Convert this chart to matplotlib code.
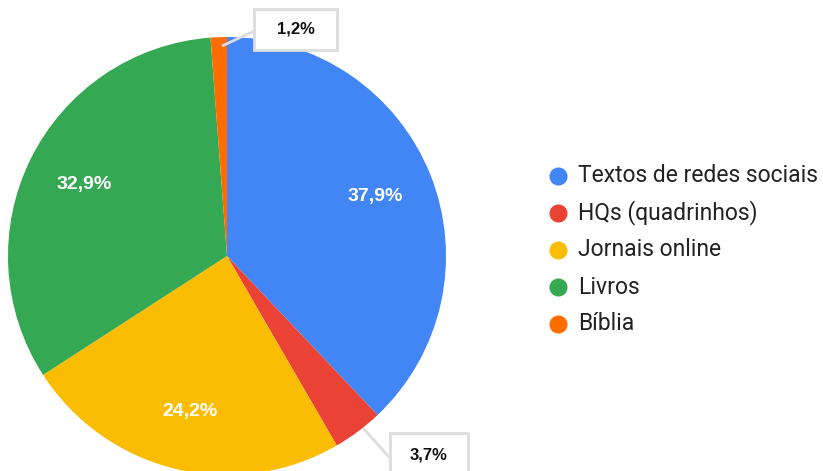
import matplotlib
matplotlib.use('Agg')
import matplotlib.pyplot as plt
from matplotlib.patches import Rectangle

categories = ['Textos de redes sociais', 'HQs (quadrinhos)', 'Jornais online', 'Livros', 'Bíblia']
values = [37.9, 3.7, 24.2, 32.9, 1.2]
colors = ['#4285F4', '#EA4335', '#FBBC04', '#34A853', '#FF6D01']

W, H = 823, 471
fig = plt.figure(figsize=(W / 100, H / 100), dpi=100)
ax = fig.add_axes([0, 0, 1, 1])

cx, cy, R = 227, H - 256, 219

def pct(v):
    return f"{v:.1f}".replace('.', ',') + '%'

def inside(p):
    # small slices get a callout box instead
    return pct(p) if p > 5 else ''

wedges, texts, autotexts = ax.pie(
    values, colors=colors, startangle=90, counterclock=False,
    center=(cx, cy), radius=R, autopct=inside, pctdistance=0.73,
    textprops=dict(color='white', fontsize=14, fontweight='bold', family=['Liberation Sans', 'DejaVu Sans']),
    wedgeprops=dict(linewidth=0), frame=True)
ax.set_xlim(0, W)
ax.set_ylim(0, H)
ax.set_aspect('equal')
ax.axis('off')

box_font = dict(fontsize=12, fontweight='bold', color='#111111', stretch='condensed',
                family=['Liberation Sans Narrow', 'Liberation Sans', 'DejaVu Sans'])

def callout(txt, x0, y0, w, h, line):
    ax.plot([line[0][0], line[1][0]], [H - line[0][1], H - line[1][1]],
            color='#dddddd', lw=2, solid_capstyle='butt', zorder=3)
    ax.add_patch(Rectangle((x0, H - y0 - h), w, h, fill=True, facecolor='white',
                           edgecolor='#dddddd', lw=2, zorder=4))
    ax.text(x0 + w / 2, H - y0 - h / 2, txt, ha='center', va='center', zorder=5, **box_font)

callout(pct(values[4]), 254, 9, 83, 41, ((222, 46), (254, 31)))
callout(pct(values[1]), 390, 433, 78, 45, ((363, 428), (390, 458)))

# legend drawn by hand
for i, (lab, c) in enumerate(zip(categories, colors)):
    y = H - (176 + 37 * i)
    ax.plot([558], [y], marker='o', markersize=12, color=c, linestyle='')
    ax.text(578, y, lab, ha='left', va='center', fontsize=16.5, color='#222222', family='Roboto')

fig.savefig('out.png', dpi=100, facecolor='white')
